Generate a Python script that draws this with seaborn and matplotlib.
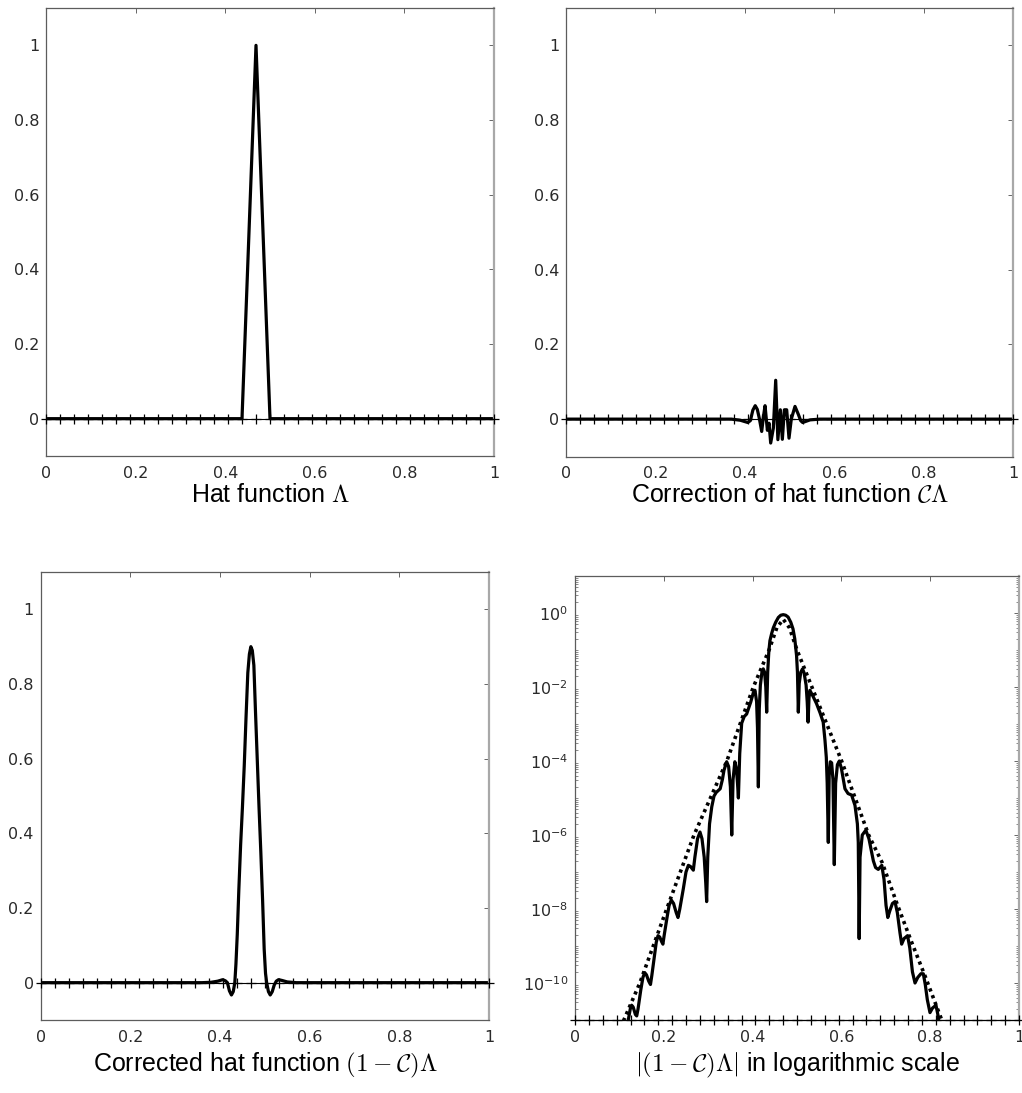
import numpy as np
import matplotlib
matplotlib.use("Agg")
import matplotlib.pyplot as plt
import seaborn as sns
from matplotlib.ticker import FixedLocator, FixedFormatter, NullFormatter

# ---------------------------------------------------------------- data
# grid nodes (mesh width 1/32) and the hat function attached to node 15
node_x = [j / 32 for j in range(33)]
hat_values = [0, 0, 0, 0, 0, 0, 0, 0, 0, 0, 0, 0, 0, 0, 0, 1,
              0, 0, 0, 0, 0, 0, 0, 0, 0, 0, 0, 0, 0, 0, 0, 0, 0]

# correction C(Lambda)
corr_x = [0.000, 0.370, 0.390, 0.4066, 0.4125, 0.418, 0.4233, 0.428, 0.4325,
          0.4378, 0.4415, 0.4453, 0.4505, 0.4542, 0.4579, 0.4639, 0.4691,
          0.4740, 0.4795, 0.4840, 0.4885, 0.4937, 0.4989, 0.5040, 0.5123,
          0.5200, 0.5250, 0.5294, 0.546, 0.568, 1.000]
corr_y = [0, 0, -0.003, -0.009, -0.004, 0.024, 0.036, 0.026, 0.002,
          -0.033, 0.005, 0.036, -0.030, -0.011, -0.064, -0.024, 0.104,
          -0.055, 0.025, -0.054, 0.025, 0.025, -0.051, 0.000, 0.034,
          0.012, -0.004, -0.009, -0.002, 0, 0]

# corrected hat function (1 - C)Lambda
fixed_x = [0.000, 0.360, 0.380, 0.395, 0.406, 0.412, 0.4165, 0.421, 0.4255,
           0.4295, 0.433, 0.4355, 0.4385, 0.442, 0.446, 0.450, 0.454, 0.458,
           0.462, 0.4655, 0.4688, 0.472, 0.4755, 0.479, 0.483, 0.487, 0.491,
           0.495, 0.4985, 0.5015, 0.504, 0.508, 0.512, 0.5165, 0.521, 0.5255,
           0.5305, 0.538, 0.550, 0.570, 1.000]
fixed_y = [0, 0, 0.001, 0.004, 0.008, 0.005, 0.000, -0.022, -0.033,
           -0.024, 0.000, 0.05, 0.13, 0.25, 0.37, 0.47, 0.58, 0.71,
           0.83, 0.88, 0.90, 0.89, 0.85, 0.73, 0.60, 0.47, 0.35,
           0.22, 0.09, 0.025, 0.000, -0.024, -0.033, -0.024, -0.006, 0.004,
           0.008, 0.006, 0.002, 0.000, 0]

# |(1 - C)Lambda| as powers of ten
mag_x = [0.112, 0.120, 0.1245, 0.1276, 0.131, 0.136, 0.139, 0.142, 0.148,
         0.153, 0.157, 0.161, 0.166, 0.170, 0.173, 0.178, 0.183, 0.187,
         0.191, 0.195, 0.198, 0.201, 0.207, 0.212, 0.217, 0.222, 0.228,
         0.232, 0.236, 0.244, 0.250, 0.2553, 0.260, 0.2665, 0.270, 0.276,
         0.2815, 0.286, 0.291, 0.2945, 0.2965, 0.299, 0.303, 0.308, 0.313,
         0.318, 0.327, 0.332, 0.3356, 0.3416, 0.346, 0.350, 0.353, 0.356,
         0.360, 0.3635, 0.366, 0.368, 0.371, 0.3754, 0.381, 0.3866, 0.396,
         0.4017, 0.4054, 0.409, 0.411, 0.413, 0.415, 0.4175, 0.421, 0.424,
         0.427, 0.4297, 0.4317, 0.434, 0.4365, 0.439, 0.443, 0.4467, 0.452,
         0.458, 0.4635, 0.469, 0.4745, 0.480, 0.486, 0.491, 0.495, 0.499,
         0.501, 0.503, 0.505, 0.5085, 0.5125, 0.516, 0.5205, 0.523, 0.525,
         0.527, 0.529, 0.536, 0.544, 0.552, 0.559, 0.563, 0.566, 0.568,
         0.5705, 0.5725, 0.575, 0.578, 0.581, 0.584, 0.587, 0.591, 0.5953,
         0.600, 0.608, 0.615, 0.623, 0.6306, 0.636, 0.638, 0.640, 0.642,
         0.647, 0.655, 0.662, 0.672, 0.677, 0.683, 0.691, 0.696, 0.7005,
         0.7045, 0.709, 0.715, 0.7207, 0.726, 0.732, 0.7357, 0.741, 0.749,
         0.754, 0.760, 0.7658, 0.772, 0.779, 0.7845, 0.789, 0.7935, 0.7995,
         0.805, 0.813, 0.818, 0.825]
mag_log10 = [-11.6, -11.0, -10.7, -10.6, -10.65, -10.85, -10.89, -10.7, -10.2,
             -9.85, -9.72, -9.78, -9.95, -10.04, -9.8, -9.35, -8.9, -8.72,
             -8.76, -8.88, -8.95, -8.7, -8.25, -7.9, -7.76, -7.85, -8.1,
             -8.23, -8.0, -7.45, -7.0, -6.82, -6.85, -6.95, -6.6, -6.1,
             -5.92, -6.1, -6.6, -7.3, -7.8, -6.6, -5.7, -5.24, -4.95,
             -4.85, -4.75, -4.5, -4.25, -4.02, -4.15, -4.7, -6.0, -4.5,
             -4.02, -4.2, -4.6, -5.0, -3.8, -2.98, -2.8, -2.73, -2.4,
             -2.15, -2.09, -2.4, -3.1, -4.7, -2.6, -1.95, -1.6, -1.51,
             -1.6, -2.0, -2.68, -1.6, -1.05, -0.75, -0.55, -0.4, -0.25,
             -0.12, -0.06, -0.045, -0.06, -0.11, -0.25, -0.43, -0.7, -1.15,
             -1.6, -2.68, -1.9, -1.6, -1.51, -1.62, -1.95, -2.4, -2.95,
             -2.3, -2.09, -2.25, -2.45, -2.7, -2.95, -3.44, -3.9, -4.6,
             -6.2, -4.4, -4.02, -4.05, -4.5, -6.8, -4.6, -4.1, -4.0,
             -4.2, -4.75, -4.88, -4.92, -5.2, -5.7, -6.2, -8.8, -6.6,
             -6.0, -5.87, -6.1, -6.7, -6.88, -6.93, -6.82, -7.2, -7.9,
             -8.23, -8.05, -7.85, -7.8, -8.1, -8.65, -8.95, -8.8, -8.72,
             -9.05, -9.7, -10.0, -9.85, -9.75, -9.75, -10.05, -10.45, -10.8,
             -10.68, -10.6, -10.9, -11.6]

# exponential envelope (dotted)
env_x = [0.100, 0.110, 0.146, 0.2065, 0.268, 0.342, 0.4017, 0.437, 0.4545,
         0.469, 0.483, 0.500, 0.5335, 0.6005, 0.6613, 0.692, 0.725, 0.755,
         0.788, 0.826, 0.840]
env_log10 = [-11.4, -11.0, -10.0, -8.0, -6.0, -4.0, -2.0, -1.0, -0.4,
             -0.17, -0.4, -1.0, -2.0, -4.0, -6.0, -6.75, -7.85, -8.8,
             -9.8, -11.0, -11.4]

x_ticks = [0, 0.2, 0.4, 0.6, 0.8, 1]
x_ticklabels = ["0", "0.2", "0.4", "0.6", "0.8", "1"]
lin_yticks = [0, 0.2, 0.4, 0.6, 0.8, 1]
lin_yticklabels = ["0", "0.2", "0.4", "0.6", "0.8", "1"]
log_yexp = [0, -2, -4, -6, -8, -10]

titles = [r"Hat function $\Lambda$",
          r"Correction of hat function $\mathcal{C}\Lambda$",
          r"Corrected hat function $(1-\mathcal{C})\Lambda$",
          r"$|(1-\mathcal{C})\Lambda|$ in logarithmic scale"]

# ---------------------------------------------------------------- figure
sns.set_style("white")
plt.rcParams["font.family"] = ["DejaVu Sans"]

W, H = 1022, 1093
fig = plt.figure(figsize=(W / 100, H / 100), dpi=100)


def add_box(left, top, right, bottom):
    return fig.add_axes([left / W, 1 - bottom / H, (right - left) / W,
                         (bottom - top) / H])


def style(ax):
    for s in ("left", "bottom", "top"):
        ax.spines[s].set_color("#5c5c5c")
        ax.spines[s].set_linewidth(0.9)
    ax.spines["right"].set_color("#a8a8a8")
    ax.spines["right"].set_linewidth(1.6)
    ax.tick_params(which="major", direction="in", top=True, right=True,
                   length=3.3, width=0.7, color="#666666", labelsize=11.5,
                   labelcolor="#2a2a2a")
    ax.tick_params(axis="x", pad=7)
    ax.tick_params(axis="y", pad=5)
    ax.set_xlim(0, 1)
    ax.xaxis.set_major_locator(FixedLocator(x_ticks))
    ax.xaxis.set_major_formatter(FixedFormatter(x_ticklabels))
    ax.set_xlabel("")
    ax.set_ylabel("")


def linear_axes(ax):
    style(ax)
    ax.set_ylim(-0.1, 1.1)
    ax.yaxis.set_major_locator(FixedLocator(lin_yticks))
    ax.yaxis.set_major_formatter(FixedFormatter(lin_yticklabels))


def node_line(ax, level):
    sns.lineplot(x=node_x, y=[level] * len(node_x), ax=ax, color="black",
                 linewidth=0.8, marker="+", markersize=7, markeredgewidth=0.9,
                 markeredgecolor="black", markerfacecolor="black",
                 estimator=None, sort=False, clip_on=False, zorder=3)


def curve(ax, x, y):
    sns.lineplot(x=x, y=y, ax=ax, color="black", linewidth=2.3,
                 estimator=None, sort=False, zorder=2)


axes = [add_box(46, 8, 494, 456), add_box(566, 8, 1013, 456.5),
        add_box(40.7, 572, 489, 1020), add_box(575, 576, 1019, 1020)]

# hat function
ax = axes[0]
curve(ax, node_x, hat_values)
node_line(ax, 0)
linear_axes(ax)

# correction
ax = axes[1]
curve(ax, corr_x, corr_y)
node_line(ax, 0)
linear_axes(ax)

# corrected hat function
ax = axes[2]
curve(ax, fixed_x, fixed_y)
node_line(ax, 0)
linear_axes(ax)

# logarithmic view
ax = axes[3]
ax.set_yscale("log")
curve(ax, mag_x, [10.0 ** e for e in mag_log10])
env = sns.lineplot(x=env_x, y=[10.0 ** e for e in env_log10], ax=ax,
                   color="black", linewidth=2.6, estimator=None, sort=False,
                   zorder=2)
env.lines[-1].set_dashes([0.9, 1.1])
env.lines[-1].set_dash_capstyle("butt")
node_line(ax, 1e-11)
style(ax)
ax.set_ylim(1e-11, 1e1)
ax.yaxis.set_major_locator(FixedLocator([10.0 ** e for e in log_yexp]))
ax.yaxis.set_major_formatter(
    FixedFormatter([r"$10^{%d}$" % e for e in log_yexp]))
minor = [k * 10.0 ** e for e in range(-11, 1) for k in range(1, 10)
         if not (k == 1 and e in log_yexp)]
ax.yaxis.set_minor_locator(FixedLocator(minor))
ax.yaxis.set_minor_formatter(NullFormatter())
ax.tick_params(axis="y", which="minor", direction="in", left=True, right=True,
               length=2.0, width=0.6, color="#777777")
ax.tick_params(axis="x", which="minor", bottom=False, top=False)

# captions under each panel
centers = [(270, 495), (789.5, 495), (265, 1065), (797, 1065)]
for (cx, cy), t in zip(centers, titles):
    fig.text(cx / W, 1 - cy / H, t, ha="center", va="center", fontsize=18,
             family="Liberation Sans", math_fontfamily="cm", color="black")

fig.savefig("out.png", dpi=100)
